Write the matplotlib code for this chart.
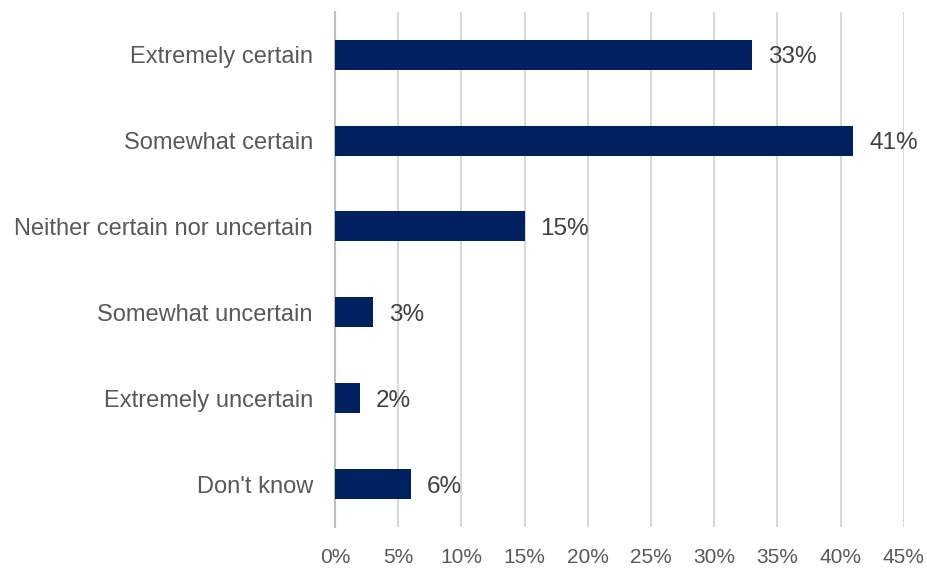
import matplotlib.pyplot as plt

# survey answers, top to bottom
answers = ["Extremely certain", "Somewhat certain", "Neither certain nor uncertain",
           "Somewhat uncertain", "Extremely uncertain", "Don't know"]
shares = [33, 41, 15, 3, 2, 6]
x_ticks = [0, 5, 10, 15, 20, 25, 30, 35, 40, 45]

plt.rcParams['font.family'] = ['Liberation Sans', 'DejaVu Sans']

fig = plt.figure(figsize=(9.28, 5.7), dpi=100)
ax = fig.add_axes([0.361, 0.0754, 0.613, 0.904])

pos = list(range(len(answers)))
ax.barh(pos, shares, height=0.35, color='#002060', zorder=3)
for p, v in zip(pos, shares):
    ax.text(v + 1.25, p, f"{v}%", va='center_baseline', ha='left',
            fontsize=17.5, color='#404040')

ax.set_ylim(len(answers) - 0.5, -0.5)
ax.set_xlim(0, 45)
ax.set_yticks(pos)
ax.set_yticklabels(answers, fontsize=17, color='#595959')
ax.set_xticks(x_ticks)
ax.set_xticklabels([f"{t}%" for t in x_ticks], fontsize=15, color='#595959')
ax.tick_params(axis='both', length=0)
ax.tick_params(axis='x', pad=15)
ax.tick_params(axis='y', pad=16)

ax.grid(axis='x', color='#d9d9d9', linewidth=1.5, zorder=0)
for s in ['top', 'right', 'bottom']:
    ax.spines[s].set_visible(False)
ax.spines['left'].set_color('#bfbfbf')
ax.spines['left'].set_linewidth(1.5)

fig.savefig('out.png', dpi=100)
